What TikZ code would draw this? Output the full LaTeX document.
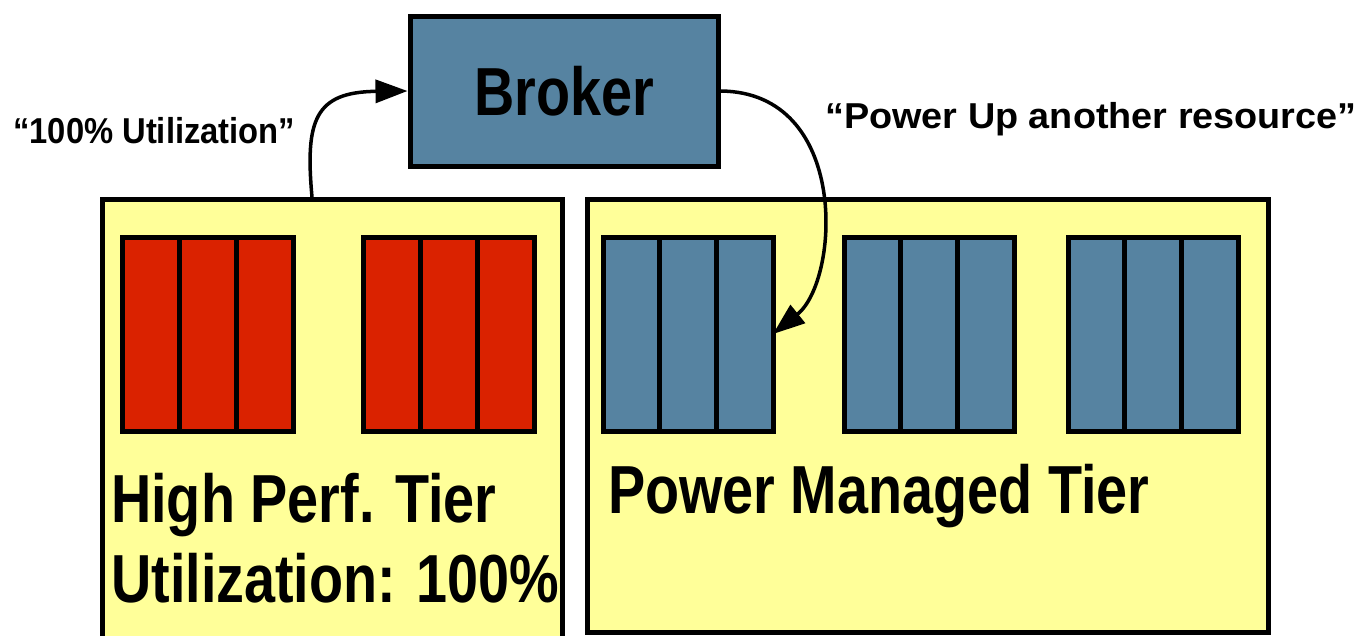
\documentclass[tikz,border=0pt]{standalone}
\usepackage{fontspec}
\setmainfont{Liberation Sans}
\newfontfamily\tierfont[FakeStretch=0.82]{Liberation Sans}
\newfontfamily\leftsayfont[FakeStretch=0.91]{Liberation Sans}
\newfontfamily\rightsayfont[FakeStretch=1.05]{Liberation Sans}
\usetikzlibrary{positioning,arrows.meta,calc}
\definecolor{tieryellow}{HTML}{FFFF99}
\definecolor{busyred}{HTML}{DA2200}
\definecolor{idleblue}{HTML}{5683A1}
\tikzset{
    % Tier background
    tierbox/.style = {draw=black, line width=5pt, fill=tieryellow, inner sep=0pt, anchor=north west},
    % Broker
    brokerbox/.style = {draw=black, line width=5pt, fill=idleblue, minimum width=308pt, minimum height=150pt,
        font=\tierfont\bfseries\fontsize{68}{80}\selectfont},
    % Resource cells
    cell/.style = {draw=black, line width=5pt, minimum width=56.67pt, minimum height=194pt, inner sep=0pt, outer sep=0pt},
    cell_busy/.style = {cell, fill=busyred},
    cell_idle/.style = {cell, fill=idleblue},
    tierlabel/.style = {anchor=base west, inner sep=0pt, font=\tierfont\bfseries\fontsize{68}{80}\selectfont},
    saylabel/.style = {anchor=base west, inner sep=0pt},
    flow/.style = {draw=black, line width=3.5pt, -{Triangle[length=32pt,width=23pt]}}
}

\begin{document}
\begin{tikzpicture}[x=1pt, y=-1pt]
    \fill[white] (0,0) rectangle (1358,635);
    \path[use as bounding box] (0,0) rectangle (1358,635);
    \clip (0,0) rectangle (1358,635);

    % Tiers
    \node[tierbox, minimum width=460pt, minimum height=450pt] (hiperf) at (100,197) {};
    \node[tierbox, minimum width=681pt, minimum height=433pt] (pmtier) at (585,197) {};

    % Broker
    \node[brokerbox] (broker) at (564,91) {Broker};

    % Busy resources
    \foreach \gx/\gname in {123/ra, 364/rb}
        \foreach \k in {0,1,2}
            \node[cell_busy] (\gname\k) at (\gx+28.33+\k*56.67, 334) {};

    % Idle resources
    \foreach \gx/\gname in {603/pa, 844/pb, 1068/pc}
        \foreach \k in {0,1,2}
            \node[cell_idle] (\gname\k) at (\gx+28.33+\k*56.67, 334) {};

    \node[tierlabel] (hiperfname) at (111,522) {High Perf. Tier};
    \node[tierlabel] (hiperfload) at (111,602) {Utilization: 100\%};
    \node[tierlabel] (pmname) at (608,513) {Power Managed Tier};

    \node[saylabel, font=\leftsayfont\bfseries\fontsize{36}{40}\selectfont] (sayfull) at (13,143) {“100\% Utilization”};
    \node[saylabel, font=\rightsayfont\bfseries\fontsize{36}{40}\selectfont] (saypower) at (825,128) {“Power Up another resource”};

    \coordinate (loadout) at (312,197);
    \draw[flow] (loadout) .. controls (305,120) and (315,92) .. (broker.west);
    \draw[flow] (broker.east) .. controls (850,92) and (840,280) .. (pa2.east);
\end{tikzpicture}
\end{document}
